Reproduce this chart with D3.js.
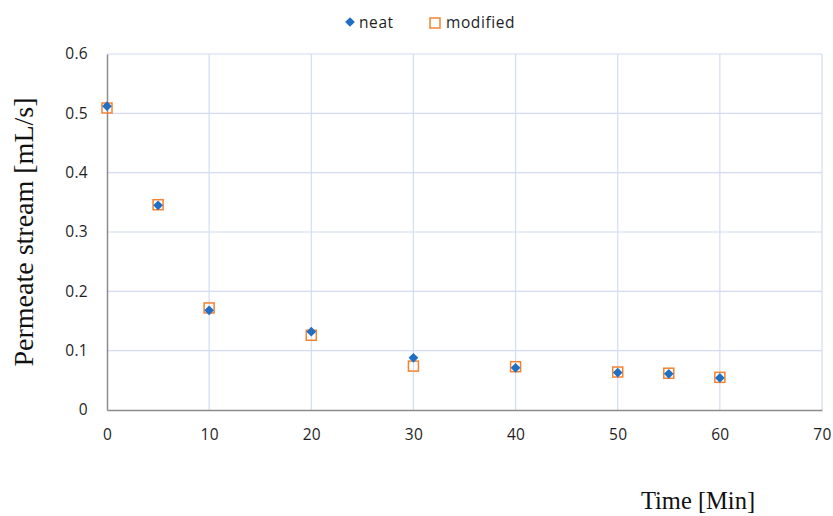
<!DOCTYPE html>
<html>
<head>
<meta charset="utf-8">
<script src="https://cdn.jsdelivr.net/npm/d3@7"></script>
<style>
  body { margin: 0; background: #fff; }
  svg { display: block; }
</style>
</head>
<body>
<svg id="chart" width="833" height="516"></svg>
<script>
// Permeate flow over time, neat vs modified membrane
const times = [0, 5, 10, 20, 30, 40, 50, 55, 60];
const neatValues = [0.512, 0.345, 0.168, 0.132, 0.088, 0.071, 0.063, 0.061, 0.054];
const modifiedValues = [0.509, 0.346, 0.172, 0.126, 0.074, 0.073, 0.064, 0.062, 0.055];
const xTicks = [0, 10, 20, 30, 40, 50, 60, 70];
const yTicks = [0, 0.1, 0.2, 0.3, 0.4, 0.5, 0.6];
const seriesNames = ["neat", "modified"];

const svg = d3.select("#chart");
const margin = { left: 107, right: 11, top: 54, bottom: 106 };
const width = 833, height = 516;

const x = d3.scaleLinear().domain([0, 70]).range([margin.left, width - margin.right]);
const y = d3.scaleLinear().domain([0, 0.6]).range([height - margin.bottom, margin.top]);

const tickFont = "'Open Sans', 'DejaVu Sans', sans-serif";
const titleFont = "'Liberation Serif', 'Times New Roman', serif";

// gridlines
svg.append("g").selectAll("line").data(yTicks.slice(1)).join("line")
  .attr("x1", x(0)).attr("x2", x(70))
  .attr("y1", d => y(d)).attr("y2", d => y(d))
  .attr("stroke", "#d3dcf4").attr("stroke-width", 1.2);
svg.append("g").selectAll("line").data(xTicks.slice(1)).join("line")
  .attr("x1", d => x(d)).attr("x2", d => x(d))
  .attr("y1", y(0)).attr("y2", y(0.6))
  .attr("stroke", "#d3dcf4").attr("stroke-width", 1.2);

// axes
const xAxis = d3.axisBottom(x).tickValues(xTicks).tickSize(0).tickPadding(19).tickFormat(d3.format("d"));
const yAxis = d3.axisLeft(y).tickValues(yTicks).tickSize(0).tickPadding(19).tickFormat(d => d === 0 ? "0" : d3.format(".1f")(d));

const gx = svg.append("g").attr("transform", `translate(0,${y(0)})`).call(xAxis);
const gy = svg.append("g").attr("transform", `translate(${x(0)},0)`).call(yAxis);
[gx, gy].forEach(g => {
  g.select(".domain").attr("stroke", "#8c8c8c").attr("stroke-width", 1.5);
  g.selectAll("text").attr("font-family", tickFont).attr("font-size", 15.5)
    .attr("letter-spacing", 0.3).attr("fill", "#1e1e1e");
});

// series markers
const pts = times.map((t, i) => ({ t, neat: neatValues[i], modified: modifiedValues[i] }));
const sq = 10;
svg.append("g").selectAll("rect").data(pts).join("rect")
  .attr("x", d => x(d.t) - sq / 2).attr("y", d => y(d.modified) - sq / 2)
  .attr("width", sq).attr("height", sq)
  .attr("fill", "none").attr("stroke", "#f58231").attr("stroke-width", 1.5);

const diamond = d3.symbol().type(d3.symbolDiamond2).size(60);
svg.append("g").selectAll("path").data(pts).join("path")
  .attr("d", diamond)
  .attr("transform", d => `translate(${x(d.t)},${y(d.neat)})`)
  .attr("fill", "#1f6fc5");

// legend
const legend = svg.append("g").attr("font-family", tickFont).attr("font-size", 15.5)
  .attr("letter-spacing", 0.6).attr("fill", "#1e1e1e");
legend.append("path").attr("d", diamond).attr("transform", "translate(350,22)").attr("fill", "#1f6fc5");
legend.append("text").attr("x", 359).attr("y", 28).text(seriesNames[0]);
legend.append("rect").attr("x", 430).attr("y", 18).attr("width", sq).attr("height", sq)
  .attr("fill", "none").attr("stroke", "#f58231").attr("stroke-width", 1.5);
legend.append("text").attr("x", 446).attr("y", 28).text(seriesNames[1]);

// axis titles
svg.append("text").attr("x", 698).attr("y", 509).attr("text-anchor", "middle")
  .attr("font-family", titleFont).attr("font-size", 24.5).attr("fill", "#111")
  .text("Time [Min]");
svg.append("text").attr("transform", "translate(33,232) rotate(-90)").attr("text-anchor", "middle")
  .attr("font-family", titleFont).attr("font-size", 28).attr("fill", "#111")
  .text("Permeate stream [mL/s]");
</script>
</body>
</html>
